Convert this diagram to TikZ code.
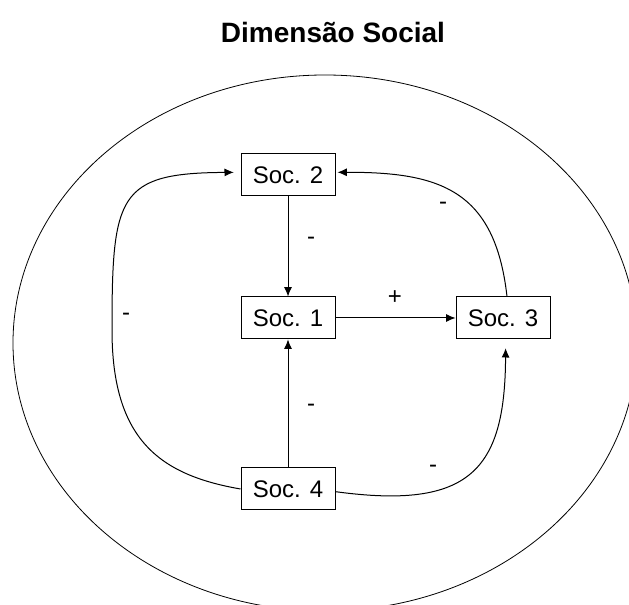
\documentclass[tikz,border=0pt]{standalone}
\usepackage{fontspec}
\setmainfont{Liberation Sans}
\usetikzlibrary{positioning,arrows.meta}

\begin{document}
\begin{tikzpicture}[x=0.75pt,y=-0.75pt,line width=0.75pt,>={Latex[length=7pt,width=6pt]}]
    \tikzstyle{every node}=[font=\fontsize{18}{21}\selectfont]
    \tikzstyle{soc}=[rectangle,draw,minimum width=70.5pt,minimum height=31.5pt,inner sep=0pt]
    \path[use as bounding box,clip] (0,0) rectangle (629,605);
    \node[font=\bfseries\fontsize{21}{25}\selectfont] (title) at (333,32) {Dimensão Social};
    \draw[line width=0.6pt] (325,343) ellipse [x radius=312, y radius=268];
    \node[soc] (soc1) at (288,318) {Soc. 1};
    \node[soc,above=75pt of soc1] (soc2) {Soc. 2};
    \node[soc,right=90pt of soc1] (soc3) {Soc. 3};
    \node[soc,below=96pt of soc1] (soc4) {Soc. 4};
    % straight links
    \draw[->] (soc2) -- (soc1);
    \draw[->] (soc1) -- (soc3);
    \draw[->] (soc4) -- (soc1);
    % curved links
    \draw[->,shorten >=5pt] (soc4.west) .. controls (160,475) and (112,440) .. (112,330)
        .. controls (112,195) and (118,173) .. ([yshift=2pt]soc2.west);
    \draw[->,shorten >=6.5pt] ([yshift=-2pt]soc4.east) .. controls (470,510) and (505,470) .. ([xshift=2pt]soc3.south);
    \draw[->,shorten >=1.5pt] ([xshift=3pt]soc3.north) .. controls (495,190) and (440,172) .. ([yshift=2pt]soc2.east);
    % signs
    \node (s21) at (311,241) {-};
    \node (s13) at (395,298) {+};
    \node (s41) at (311,408) {-};
    \node (s42) at (126,317) {-};
    \node (s43) at (433,469) {-};
    \node (s32) at (443,206) {-};
\end{tikzpicture}
\end{document}
